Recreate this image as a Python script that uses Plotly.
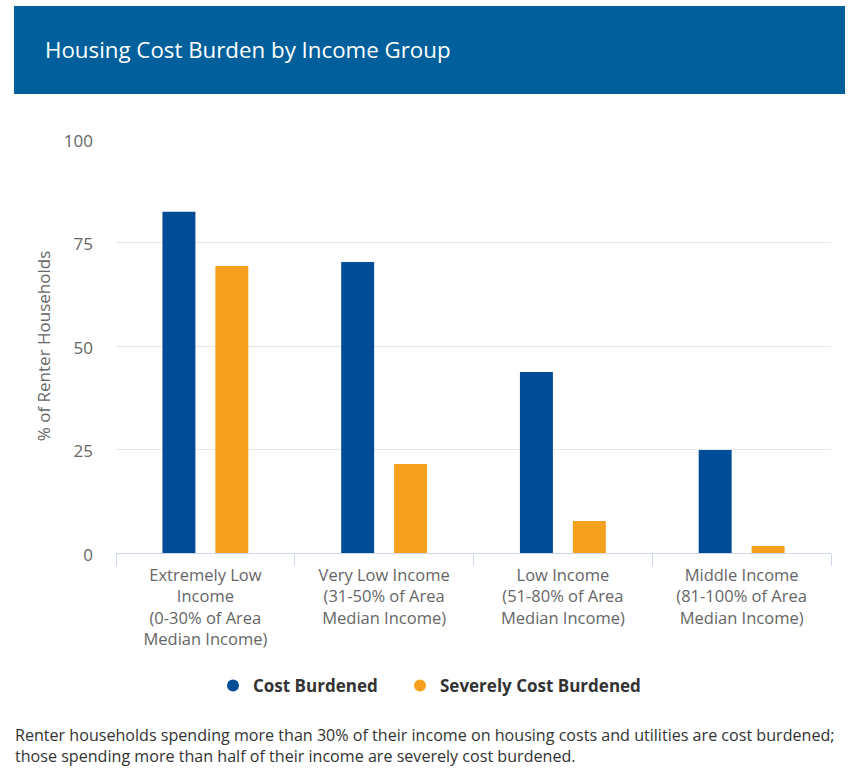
import plotly.graph_objects as go

categories = [
    "Extremely Low<br>Income<br>(0-30% of Area<br>Median Income)",
    "Very Low Income<br>(31-50% of Area<br>Median Income)",
    "Low Income<br>(51-80% of Area<br>Median Income)",
    "Middle Income<br>(81-100% of Area<br>Median Income)",
]
cost_burdened = [82.4, 70.3, 43.7, 24.9]
severely_cost_burdened = [69.3, 21.5, 7.7, 1.7]
series_names = ["Cost Burdened", "Severely Cost Burdened"]
series_colors = ["#014c97", "#f6a11d"]
y_ticks = [0, 25, 50, 75, 100]

title_text = "Housing Cost Burden by Income Group"
footer_text = ("Renter households spending more than 30% of their income on housing costs and utilities are cost burdened;"
               "<br>those spending more than half of their income are severely cost burdened.")

W, H = 857, 779
L, R, T, B = 116, 831, 139, 553
pw, ph = R - L, B - T

def px(x):
    return (x - L) / pw

def py(y):
    return (B - y) / ph

FONT = "Open Sans"

fig = go.Figure()
for name, vals, col in zip(series_names, [cost_burdened, severely_cost_burdened], series_colors):
    fig.add_trace(go.Bar(x=categories, y=vals, name=name, marker=dict(color=col, line=dict(width=0)),
                         showlegend=False))
legend_ids = ["legend", "legend2"]
for name, col, lg in zip(series_names, series_colors, legend_ids):
    fig.add_trace(go.Scatter(x=[None], y=[None], mode="markers", name=name, legend=lg,
                             marker=dict(symbol="circle", size=18, color=col)))

legend_style = dict(orientation="h", xanchor="left", y=py(686), yanchor="middle",
                    font=dict(family=FONT, size=17, color="#333333", weight="bold"),
                    itemsizing="constant", itemwidth=30, bgcolor="rgba(0,0,0,0)")

fig.update_layout(
    width=W, height=H,
    margin=dict(l=L, r=W - R, t=T, b=H - B, autoexpand=False),
    paper_bgcolor="white", plot_bgcolor="white",
    barmode="group", bargap=0.408, bargroupgap=0.377,
    font=dict(family=FONT, color="#666666"),
    showlegend=True,
    legend=dict(x=px(213), **legend_style),
    legend2=dict(x=px(400), **legend_style),
    shapes=[dict(type="rect", xref="paper", yref="paper", x0=px(14), x1=px(845), y0=py(6), y1=py(94),
                 fillcolor="#01609b", line=dict(width=0), layer="below")],
    annotations=[
        dict(text=title_text, xref="paper", yref="paper", x=px(43), y=py(50), xanchor="left", yanchor="middle",
             showarrow=False, font=dict(family=FONT, size=22.3, color="white")),
        dict(text=footer_text, xref="paper", yref="paper", x=px(13), y=py(745), xanchor="left", yanchor="middle",
             align="left", showarrow=False, font=dict(family=FONT, size=16.1, color="#333333")),
    ],
)
fig.update_xaxes(showline=True, linecolor="#ccd6eb", linewidth=1, ticks="outside", tickson="boundaries",
                 ticklen=12, tickcolor="#ccd6eb", tickfont=dict(size=16.5, color="#666666"), showgrid=False,
                 ticklabelstandoff=7)
fig.update_yaxes(range=[0, 100], tickvals=y_ticks, showgrid=True, gridcolor="#e6e6e6", zeroline=False,
                 tickfont=dict(size=17, color="#666666"), ticks="", ticklabelstandoff=22, ticklabelshift=2,
                 title=dict(text="% of Renter Households", font=dict(size=17, color="#666666"), standoff=8))

fig.write_html("out.html")
